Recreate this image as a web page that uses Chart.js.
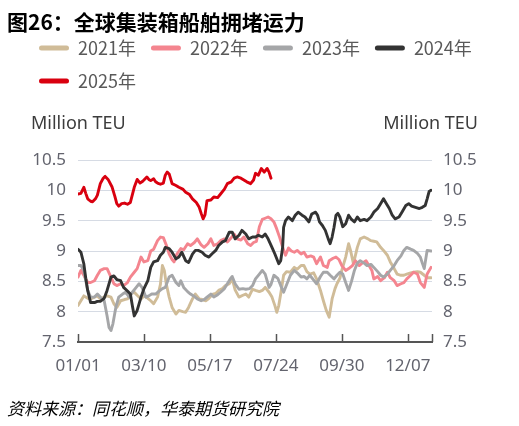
<!DOCTYPE html>
<html>
<head>
<meta charset="utf-8">
<script src="https://cdn.jsdelivr.net/npm/chart.js@4/dist/chart.umd.min.js"></script>
<style>
  html, body { margin: 0; padding: 0; background: #fff; }
  #wrap { width: 519px; height: 426px; position: relative; }
</style>
</head>
<body>
<div id="wrap"><canvas id="chart"></canvas></div>
<script>
// Series labels and colours
const seriesNames = ['2021年', '2022年', '2023年', '2024年', '2025年'];
const seriesColors = ['#d0bc98', '#f4858f', '#a5a6a8', '#333333', '#d9000f'];

// X axis: day of year, ticks every 68 days
const xTickDays = [0, 68, 136, 204, 272, 340, 365];
const xTickLabels = ['01/01', '03/10', '05/17', '07/24', '09/30', '12/07', ''];

// Y axis ticks (million TEU)
const yTicks = [7.5, 8, 8.5, 9, 9.5, 10, 10.5];

// [day of year, million TEU]
const s2021 = [[0,8.10],[3,8.18],[6,8.26],[10,8.22],[13,8.21],[17,8.24],[20,8.26],[23,8.21],[27,8.24],[30,8.26],
  [34,8.24],[37,8.13],[40,8.07],[44,8.18],[48,8.2],[51,8.21],[54,8.29],[58,8.32],[61,8.27],[65,8.21],
  [68,8.26],[72,8.22],[75,8.18],[78,8.13],[82,8.24],[85,8.45],[87,8.76],[89,8.68],[91,8.46],[94,8.24],
  [97,8.07],[101,7.96],[104,8.02],[108,8.0],[111,7.99],[114,8.07],[118,8.21],[121,8.29],[125,8.21],[128,8.2],
  [132,8.18],[135,8.22],[139,8.29],[142,8.3],[145,8.35],[149,8.38],[152,8.43],[156,8.46],[159,8.54],[162,8.36],
  [166,8.24],[170,8.27],[173,8.29],[176,8.24],[180,8.37],[183,8.35],[187,8.33],[190,8.35],[193,8.4],[197,8.32],
  [200,8.24],[203,8.1],[205,7.99],[207,8.1],[209,8.29],[212,8.6],[215,8.66],[219,8.65],[223,8.73],[226,8.7],
  [230,8.76],[233,8.76],[236,8.66],[239,8.62],[243,8.64],[246,8.54],[250,8.35],[253,8.18],[256,8.02],[259,7.91],
  [262,8.21],[265,8.38],[267,8.46],[270,8.55],[272,8.68],[276,8.9],[279,9.12],[281,9.01],[284,8.79],[288,9.06],
  [291,9.2],[295,9.23],[299,9.2],[302,9.17],[305,9.16],[308,9.15],[312,9.06],[315,9.01],[319,8.93],[322,8.82],
  [326,8.71],[329,8.62],[333,8.6],[336,8.6],[339,8.62],[343,8.64],[346,8.65],[350,8.66],[353,8.65],[357,8.6],
  [360,8.56],[364,8.56]];

const s2022 = [[0,8.57],[3,8.68],[6,8.6],[10,8.48],[13,8.48],[17,8.51],[20,8.6],[23,8.68],[27,8.71],[30,8.71],
  [34,8.57],[37,8.46],[40,8.43],[44,8.46],[47,8.43],[51,8.48],[54,8.57],[58,8.65],[61,8.71],[65,8.9],
  [68,8.82],[72,8.84],[75,9.0],[78,9.03],[82,9.17],[85,9.23],[88,9.22],[91,9.1],[94,8.95],[97,8.86],
  [99,8.82],[102,8.95],[106,9.04],[109,9.02],[113,9.12],[116,9.09],[120,9.14],[123,9.2],[127,9.1],[130,9.06],
  [134,9.12],[137,9.2],[140,9.09],[144,9.12],[147,9.17],[151,9.2],[154,9.15],[158,9.22],[161,9.28],[164,9.2],
  [168,9.18],[171,9.23],[175,9.12],[178,9.09],[181,9.14],[184,9.16],[187,9.4],[190,9.52],[193,9.54],[196,9.56],
  [199,9.53],[202,9.48],[205,9.36],[208,9.22],[211,9.06],[214,8.93],[217,9.05],[220,9.0],[223,8.98],[226,9.01],
  [230,8.95],[233,8.98],[236,8.9],[240,8.92],[243,8.9],[246,8.79],[250,8.9],[253,8.76],[257,8.73],[259,8.84],
  [263,8.88],[266,8.9],[269,8.86],[272,8.76],[276,8.68],[280,8.72],[283,8.76],[286,8.84],[290,8.76],[293,8.8],
  [297,8.84],[300,8.76],[303,8.68],[305,8.54],[309,8.58],[312,8.51],[316,8.56],[319,8.65],[322,8.56],[326,8.51],
  [329,8.43],[333,8.46],[336,8.48],[339,8.54],[343,8.6],[346,8.65],[350,8.62],[353,8.48],[357,8.4],[360,8.62],
  [364,8.73]];

const s2023 = [[0,8.76],[3,8.76],[6,8.68],[10,8.35],[13,8.24],[17,8.24],[20,8.29],[23,8.24],[27,8.18],[30,7.93],
  [32,7.74],[34,7.69],[36,7.8],[39,8.07],[42,8.24],[46,8.29],[49,8.32],[53,8.24],[56,8.32],[60,8.4],
  [63,8.46],[66,8.4],[70,8.24],[73,8.26],[76,8.29],[80,8.29],[83,8.33],[87,8.38],[90,8.4],[94,8.57],
  [97,8.6],[101,8.48],[104,8.43],[106,8.51],[109,8.4],[113,8.33],[116,8.29],[120,8.25],[123,8.21],[127,8.18],
  [130,8.2],[133,8.24],[137,8.29],[140,8.24],[144,8.28],[147,8.32],[151,8.38],[154,8.46],[157,8.54],[159,8.58],
  [162,8.46],[166,8.37],[170,8.38],[173,8.37],[177,8.38],[180,8.43],[183,8.54],[187,8.62],[190,8.68],[193,8.62],
  [197,8.4],[199,8.45],[202,8.6],[206,8.55],[209,8.43],[212,8.32],[216,8.48],[219,8.6],[223,8.68],[226,8.64],
  [230,8.57],[233,8.58],[236,8.54],[239,8.6],[243,8.52],[246,8.46],[250,8.58],[253,8.65],[257,8.65],[260,8.6],
  [264,8.54],[267,8.6],[270,8.65],[273,8.62],[276,8.48],[279,8.35],[282,8.5],[285,8.68],[288,8.8],[291,8.84],
  [295,8.8],[298,8.76],[302,8.78],[305,8.73],[309,8.66],[312,8.6],[315,8.57],[319,8.62],[322,8.68],[326,8.76],
  [329,8.84],[333,8.92],[336,9.01],[339,9.06],[343,9.03],[346,9.01],[350,8.96],[353,8.9],[355,8.8],[357,8.71],
  [360,9.01],[364,9.0]];

const s2024 = [[0,9.03],[3,8.98],[6,8.79],[8,8.55],[10,8.35],[13,8.15],[17,8.15],[20,8.17],[23,8.17],[27,8.22],
  [30,8.35],[34,8.57],[37,8.59],[40,8.53],[44,8.51],[47,8.4],[51,8.34],[54,8.29],[56,8.1],[58,7.93],
  [61,8.02],[65,8.24],[68,8.38],[72,8.51],[75,8.73],[78,8.82],[82,8.84],[85,8.93],[88,8.98],[90,9.06],
  [94,9.04],[97,8.98],[101,8.87],[104,8.9],[107,8.98],[111,8.84],[114,8.81],[118,8.95],[121,9.01],[124,9.01],
  [128,8.98],[131,8.93],[135,8.9],[138,8.95],[142,9.01],[145,9.09],[149,9.15],[152,9.17],[156,9.31],[159,9.31],
  [162,9.2],[166,9.26],[169,9.34],[173,9.28],[176,9.2],[180,9.23],[183,9.23],[186,9.26],[190,9.23],[193,9.28],
  [196,9.2],[200,9.06],[203,8.95],[207,8.79],[209,8.84],[211,9.06],[212,9.39],[214,9.5],[217,9.56],[221,9.5],
  [224,9.59],[227,9.64],[231,9.59],[234,9.56],[238,9.48],[241,9.61],[245,9.64],[247,9.59],[249,9.48],[252,9.42],
  [255,9.34],[258,9.2],[260,9.12],[262,9.23],[264,9.39],[266,9.59],[268,9.62],[270,9.56],[273,9.4],[276,9.45],
  [279,9.59],[282,9.52],[285,9.48],[288,9.56],[291,9.5],[295,9.52],[298,9.5],[302,9.56],[305,9.64],[309,9.7],
  [312,9.78],[315,9.86],[318,9.78],[321,9.7],[324,9.59],[327,9.53],[331,9.56],[334,9.64],[338,9.75],[341,9.78],
  [344,9.74],[348,9.72],[352,9.7],[355,9.72],[358,9.75],[360,9.86],[362,9.98],[364,10.0]];

const s2025 = [[0,9.94],[3,9.95],[6,10.05],[8,9.95],[10,9.86],[13,9.82],[15,9.81],[18,9.86],[20,9.92],[23,10.11],
  [26,10.2],[28,10.23],[31,10.18],[35,10.06],[38,9.9],[40,9.78],[42,9.74],[45,9.78],[48,9.79],[51,9.77],
  [54,9.8],[58,10.05],[61,10.18],[64,10.12],[66,10.14],[68,10.17],[71,10.22],[73,10.18],[75,10.16],[78,10.19],
  [80,10.14],[82,10.12],[85,10.1],[88,10.12],[90,10.25],[92,10.3],[94,10.27],[97,10.11],[101,10.08],[104,10.05],
  [108,10.02],[111,9.97],[115,9.93],[118,9.86],[122,9.8],[125,9.72],[127,9.62],[129,9.53],[131,9.6],[133,9.83],
  [137,9.84],[140,9.89],[144,9.88],[147,9.94],[151,10.02],[154,10.11],[158,10.14],[161,10.2],[164,10.22],[168,10.2],
  [171,10.17],[174,10.14],[178,10.11],[181,10.17],[183,10.28],[186,10.25],[189,10.36],[192,10.3],[195,10.36],[197,10.3],
  [199,10.2]];

const allSeries = [s2021, s2022, s2023, s2024, s2025];

const axisColor = '#555555';
const tickColor = '#63646e';
const tickFont = { family: 'Noto Sans', size: 17 };

// Title, unit labels and source text drawn on the canvas
const textPlugin = {
    id: 'texts',
    afterDraw(chart) {
        const ctx = chart.ctx;
        ctx.save();
        ctx.textBaseline = 'middle';
        ctx.fillStyle = '#000';
        ctx.textAlign = 'left';
        ctx.font = 'bold 21px "Noto Sans CJK SC"';
        ctx.fillText('图26：全球集装箱船舶拥堵运力', 7, 22);

        ctx.fillStyle = '#3c3c3c';
        ctx.font = '18px "Noto Sans"';
        ctx.fillText('Million TEU', 31, 124);
        ctx.textAlign = 'right';
        ctx.fillText('Million TEU', 478, 124);

        ctx.textAlign = 'left';
        ctx.fillStyle = '#000';
        ctx.font = 'italic 17px "Noto Sans CJK SC"';
        ctx.fillText('资料来源：同花顺，华泰期货研究院', 7, 409);
        ctx.restore();
    }
};

// Short tick marks pointing up from the x axis
const innerTicks = {
    id: 'innerTicks',
    afterDatasetsDraw(chart) {
        const xScale = chart.scales.x;
        const bottom = chart.chartArea.bottom;
        const ctx = chart.ctx;
        ctx.save();
        ctx.strokeStyle = axisColor;
        ctx.lineWidth = 1.5;
        xScale.ticks.forEach(t => {
            const px = Math.round(xScale.getPixelForValue(t.value)) + 0.5;
            ctx.beginPath();
            ctx.moveTo(px, bottom);
            ctx.lineTo(px, bottom - 8);
            ctx.stroke();
        });
        ctx.restore();
    }
};

// Extra room under the legend for the unit labels
const legendSpace = {
    id: 'legendSpace',
    beforeInit(chart) {
        const fit = chart.legend.fit;
        chart.legend.fit = function () {
            fit.bind(chart.legend)();
            this.height += 60;
        };
    }
};

const datasets = allSeries.map((s, i) => ({
    label: seriesNames[i],
    data: s.map(p => ({ x: p[0], y: p[1] })),
    borderColor: seriesColors[i],
    backgroundColor: seriesColors[i],
    borderWidth: 2.9,
    pointRadius: 0,
    tension: 0,
    borderJoinStyle: 'round',
    borderCapStyle: 'round',
    yAxisID: 'y',
    order: seriesNames.length - i
}));

new Chart(document.getElementById('chart'), {
    type: 'line',
    data: { datasets: datasets },
    options: {
        responsive: true,
        maintainAspectRatio: false,
        animation: false,
        layout: { padding: { left: 24, right: 10, top: 24, bottom: 50 } },
        plugins: {
            tooltip: { enabled: false },
            legend: {
                position: 'top',
                align: 'start',
                labels: {
                    boxWidth: 30,
                    boxHeight: 5,
                    padding: 15,
                    color: '#595959',
                    font: { family: 'Noto Sans CJK SC', size: 18 },
                    useBorderRadius: true,
                    borderRadius: 2.5,
                    generateLabels: (chart) => chart.data.datasets.map((ds, i) => ({
                        text: ds.label,
                        fillStyle: ds.borderColor,
                        strokeStyle: ds.borderColor,
                        lineWidth: 0,
                        borderRadius: 2.5,
                        fontColor: '#595959',
                        hidden: false,
                        datasetIndex: i
                    }))
                }
            }
        },
        scales: {
            x: {
                type: 'linear',
                min: 0,
                max: 365,
                afterBuildTicks: (scale) => { scale.ticks = xTickDays.map(v => ({ value: v })); },
                afterFit: (scale) => { scale.height = 34; },
                ticks: {
                    autoSkip: false,
                    maxRotation: 0,
                    padding: 6,
                    color: tickColor,
                    font: tickFont,
                    callback: (value, index) => xTickLabels[index]
                },
                grid: { display: false },
                border: { display: true, color: axisColor, width: 2 }
            },
            y: {
                position: 'left',
                min: 7.5,
                max: 10.5,
                afterBuildTicks: (scale) => { scale.ticks = yTicks.map(v => ({ value: v })); },
                afterFit: (scale) => { scale.width = 54; },
                ticks: {
                    padding: 12,
                    color: tickColor,
                    font: tickFont,
                    callback: (value) => String(value)
                },
                grid: {
                    drawTicks: false,
                    lineWidth: 1,
                    color: (ctx) => ctx.tick && ctx.tick.value === 7.5 ? 'rgba(0,0,0,0)' : '#d6dbe4'
                },
                border: { display: false }
            },
            y2: {
                position: 'right',
                min: 7.5,
                max: 10.5,
                afterBuildTicks: (scale) => { scale.ticks = yTicks.map(v => ({ value: v })); },
                afterFit: (scale) => { scale.width = 77; },
                ticks: {
                    padding: 11,
                    color: tickColor,
                    font: tickFont,
                    callback: (value) => String(value)
                },
                grid: { drawOnChartArea: false, drawTicks: false },
                border: { display: false }
            }
        }
    },
    plugins: [legendSpace, innerTicks, textPlugin]
});
</script>
</body>
</html>
